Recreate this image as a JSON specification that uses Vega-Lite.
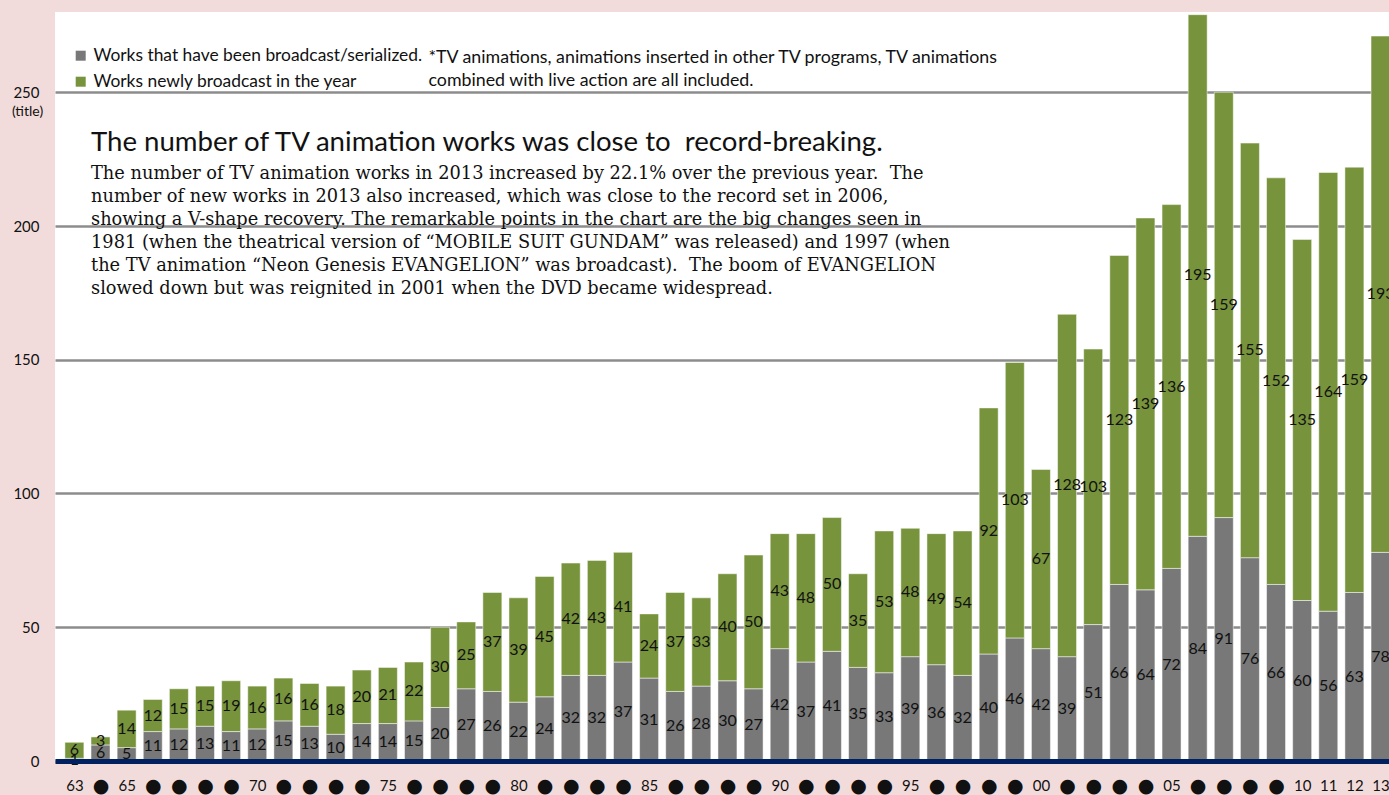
{
  "$schema": "https://vega.github.io/schema/vega-lite/v6.json",
  "width": 1334,
  "height": 749,
  "autosize": {"type": "none"},
  "padding": {"left": 55, "top": 12, "right": 0, "bottom": 34},
  "background": "#f2dcdb",
  "config": {
    "font": "Lato",
    "view": {"stroke": null, "fill": "white"}
  },
  "title": {
    "text": "The number of TV animation works was close to\u00a0 record-breaking.",
    "subtitle": [
      "The number of TV animation works in 2013 increased by 22.1% over the previous year.\u00a0 The",
      "number of new works in 2013 also increased, which was close to the record set in 2006,",
      "showing a V-shape recovery. The remarkable points in the chart are the big changes seen in",
      "1981 (when the theatrical version of “MOBILE SUIT GUNDAM” was released) and 1997 (when",
      "the TV animation “Neon Genesis EVANGELION” was broadcast).\u00a0 The boom of EVANGELION",
      "slowed down but was reignited in 2001 when the DVD became widespread."
    ],
    "anchor": "start",
    "frame": "group",
    "orient": "top",
    "dx": 36,
    "dy": 290,
    "font": "Lato",
    "fontSize": 27.6,
    "fontWeight": "normal",
    "color": "#111111",
    "subtitleFont": "DejaVu Serif",
    "subtitleFontSize": 17.8,
    "subtitleLineHeight": 23,
    "subtitleColor": "#111111",
    "subtitlePadding": 9
  },
  "data": {
    "values": [
      {"year": 1963, "cont": 1, "new": 6},
      {"year": 1964, "cont": 6, "new": 3},
      {"year": 1965, "cont": 5, "new": 14},
      {"year": 1966, "cont": 11, "new": 12},
      {"year": 1967, "cont": 12, "new": 15},
      {"year": 1968, "cont": 13, "new": 15},
      {"year": 1969, "cont": 11, "new": 19},
      {"year": 1970, "cont": 12, "new": 16},
      {"year": 1971, "cont": 15, "new": 16},
      {"year": 1972, "cont": 13, "new": 16},
      {"year": 1973, "cont": 10, "new": 18},
      {"year": 1974, "cont": 14, "new": 20},
      {"year": 1975, "cont": 14, "new": 21},
      {"year": 1976, "cont": 15, "new": 22},
      {"year": 1977, "cont": 20, "new": 30},
      {"year": 1978, "cont": 27, "new": 25},
      {"year": 1979, "cont": 26, "new": 37},
      {"year": 1980, "cont": 22, "new": 39},
      {"year": 1981, "cont": 24, "new": 45},
      {"year": 1982, "cont": 32, "new": 42},
      {"year": 1983, "cont": 32, "new": 43},
      {"year": 1984, "cont": 37, "new": 41},
      {"year": 1985, "cont": 31, "new": 24},
      {"year": 1986, "cont": 26, "new": 37},
      {"year": 1987, "cont": 28, "new": 33},
      {"year": 1988, "cont": 30, "new": 40},
      {"year": 1989, "cont": 27, "new": 50},
      {"year": 1990, "cont": 42, "new": 43},
      {"year": 1991, "cont": 37, "new": 48},
      {"year": 1992, "cont": 41, "new": 50},
      {"year": 1993, "cont": 35, "new": 35},
      {"year": 1994, "cont": 33, "new": 53},
      {"year": 1995, "cont": 39, "new": 48},
      {"year": 1996, "cont": 36, "new": 49},
      {"year": 1997, "cont": 32, "new": 54},
      {"year": 1998, "cont": 40, "new": 92},
      {"year": 1999, "cont": 46, "new": 103},
      {"year": 2000, "cont": 42, "new": 67},
      {"year": 2001, "cont": 39, "new": 128},
      {"year": 2002, "cont": 51, "new": 103},
      {"year": 2003, "cont": 66, "new": 123},
      {"year": 2004, "cont": 64, "new": 139},
      {"year": 2005, "cont": 72, "new": 136},
      {"year": 2006, "cont": 84, "new": 195},
      {"year": 2007, "cont": 91, "new": 159},
      {"year": 2008, "cont": 76, "new": 155},
      {"year": 2009, "cont": 66, "new": 152},
      {"year": 2010, "cont": 60, "new": 135},
      {"year": 2011, "cont": 56, "new": 164},
      {"year": 2012, "cont": 63, "new": 159},
      {"year": 2013, "cont": 78, "new": 193}
    ]
  },
  "transform": [{"fold": ["cont", "new"], "as": ["series", "count"]}],
  "encoding": {
    "x": {
      "field": "year",
      "type": "quantitative",
      "scale": {"domain": [1962.449, 2013.133], "nice": false, "zero": false},
      "axis": {
        "values": [1963,1964,1965,1966,1967,1968,1969,1970,1971,1972,1973,1974,1975,1976,1977,1978,1979,1980,1981,1982,1983,1984,1985,1986,1987,1988,1989,1990,1991,1992,1993,1994,1995,1996,1997,1998,1999,2000,2001,2002,2003,2004,2005,2006,2007,2008,2009,2010,2011,2012,2013],
        "labelExpr": "(datum.value % 5 == 0 || datum.value == 1963 || datum.value >= 2010) ? slice(toString(datum.value), 2) : '●'",
        "labelFontSize": {"condition": {"test": "datum.value % 5 == 0 || datum.value == 1963 || datum.value >= 2010", "value": 15}, "value": 19},
        "labelFont": {"condition": {"test": "datum.value % 5 == 0 || datum.value == 1963 || datum.value >= 2010", "value": "Lato"}, "value": "DejaVu Sans"},
        "labelBaseline": "middle",
        "labelPadding": 24,
        "labelColor": "#111111",
        "labelOverlap": false,
        "labelFlush": false,
        "labelBound": false,
        "ticks": false,
        "tickSize": 0,
        "grid": false,
        "domainColor": "#002060",
        "domainWidth": 5,
        "zindex": 1,
        "title": ["*TV animations, animations inserted in other TV programs, TV animations", "combined with live action are all included."],
        "titleX": 373,
        "titleY": -699,
        "titleAlign": "left",
        "titleBaseline": "alphabetic",
        "titleAngle": 0,
        "titleFont": "Lato",
        "titleFontSize": 17.8,
        "titleFontWeight": "normal",
        "titleColor": "#111111",
        "titleLineHeight": 23.5,
        "titleLimit": 0
      }
    }
  },
  "layer": [
    {
      "mark": {"type": "bar", "width": 19, "stroke": "white", "strokeWidth": 1, "strokeOpacity": 0.5, "clip": true},
      "encoding": {
        "y": {
          "field": "count",
          "type": "quantitative",
          "stack": "zero",
          "scale": {"domain": [0, 280], "nice": false},
          "axis": {
            "values": [0, 50, 100, 150, 200, 250],
            "domain": false,
            "ticks": false,
            "labelPadding": 16,
            "labelFontSize": 15,
            "labelColor": "#111111",
            "grid": true,
            "gridColor": "#8c8c8c",
            "gridWidth": 2.5,
            "title": "(title)",
            "titleAngle": 0,
            "titleX": -28,
            "titleY": 99,
            "titleAlign": "center",
            "titleBaseline": "middle",
            "titleFontSize": 14,
            "titleFontWeight": "normal",
            "titleColor": "#111111"
          }
        },
        "order": {"field": "series", "sort": "ascending"},
        "color": {
          "field": "series",
          "type": "nominal",
          "scale": {"domain": ["cont", "new"], "range": ["#787878", "#77933c"]},
          "legend": {
            "orient": "none",
            "legendX": 17,
            "legendY": 35,
            "title": null,
            "symbolType": "square",
            "symbolSize": 100,
            "symbolStrokeWidth": 0,
            "labelFontSize": 17.4,
            "labelColor": "#111111",
            "labelOffset": 4,
            "labelLimit": 0,
            "rowPadding": 7,
            "padding": 0,
            "labelExpr": "datum.label == 'cont' ? 'Works that have been broadcast/serialized.' : 'Works newly broadcast in the year'"
          }
        }
      }
    },
    {
      "mark": {"type": "text", "fontSize": 16, "color": "#111111", "baseline": "middle", "align": "center"},
      "encoding": {
        "y": {"field": "count", "type": "quantitative", "stack": "zero", "bandPosition": 0.5},
        "order": {"field": "series", "sort": "ascending"},
        "detail": {"field": "series"},
        "text": {"field": "count", "type": "quantitative"}
      }
    },
    {
      "data": {"values": [{}]},
      "mark": {"type": "rect", "color": "white"},
      "encoding": {
        "x": {"datum": 1963.36},
        "x2": {"datum": 1996.91},
        "y": {"datum": 185},
        "y2": {"datum": 215}
      }
    }
  ]
}
